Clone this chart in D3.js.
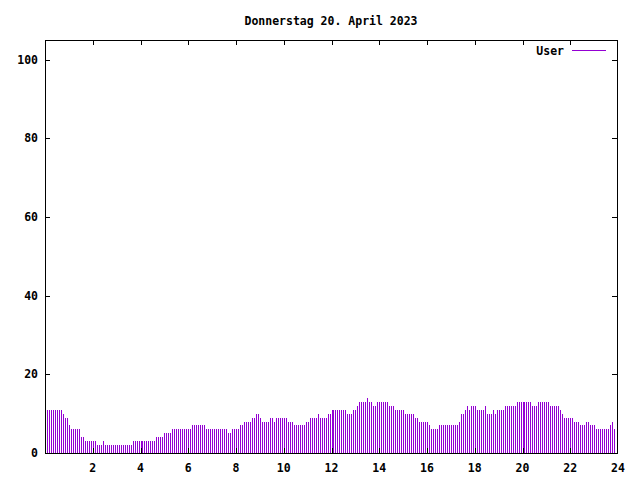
<!DOCTYPE html>
<html>
<head>
<meta charset="utf-8">
<script src="https://cdn.jsdelivr.net/npm/d3@7"></script>
<style>
    body { margin: 0; background: #fff; }
    text { font-family: 'DejaVu Sans Mono', monospace; font-weight: bold; font-size: 11.5px; fill: #000; }
</style>
</head>
<body>
<script>
'use strict';

var title = 'Donnerstag 20. April 2023';
var seriesName = 'User';

// logged users, one sample every 5 minutes starting at 00:05
var users = [
    11, 11, 11, 11, 11, 11, 11, 11, 10, 9, 9, 7,
    6, 6, 6, 6, 6, 4, 4, 3, 3, 3, 3, 3,
    3, 2, 2, 2, 3, 2, 2, 2, 2, 2, 2, 2,
    2, 2, 2, 2, 2, 2, 2, 3, 3, 3, 3, 3,
    3, 3, 3, 3, 3, 3, 3, 4, 4, 4, 4, 5,
    5, 5, 5, 6, 6, 6, 6, 6, 6, 6, 6, 6,
    6, 7, 7, 7, 7, 7, 7, 7, 6, 6, 6, 6,
    6, 6, 6, 6, 6, 6, 6, 5, 5, 6, 6, 6,
    6, 7, 7, 8, 8, 8, 8, 9, 9, 10, 10, 9,
    8, 8, 8, 8, 9, 9, 8, 9, 9, 9, 9, 9,
    9, 8, 8, 8, 7, 7, 7, 7, 7, 7, 8, 8,
    9, 9, 9, 9, 10, 9, 9, 9, 9, 10, 10, 11,
    11, 11, 11, 11, 11, 11, 11, 10, 10, 10, 11, 11,
    12, 13, 13, 13, 13, 14, 13, 13, 12, 12, 13, 13,
    13, 13, 13, 13, 12, 12, 12, 11, 11, 11, 11, 11,
    10, 10, 10, 10, 10, 9, 9, 8, 8, 8, 8, 8,
    7, 6, 6, 6, 6, 7, 7, 7, 7, 7, 7, 7,
    7, 7, 7, 8, 10, 10, 11, 12, 11, 12, 12, 12,
    11, 11, 11, 11, 12, 10, 10, 10, 11, 10, 11, 11,
    11, 11, 12, 12, 12, 12, 12, 12, 13, 13, 13, 13,
    13, 13, 13, 13, 12, 12, 12, 13, 13, 13, 13, 13,
    13, 12, 12, 12, 12, 12, 11, 10, 9, 9, 9, 9,
    9, 8, 8, 8, 7, 7, 7, 8, 8, 7, 7, 7,
    6, 6, 6, 6, 6, 6, 6, 7, 8, 6
];

var xTicks = [0, 2, 4, 6, 8, 10, 12, 14, 16, 18, 20, 22, 24];
var xLabels = [2, 4, 6, 8, 10, 12, 14, 16, 18, 20, 22, 24];
var yTicks = [0, 20, 40, 60, 80, 100];

var stepHour = 5 / 60;

var width = 640;
var height = 480;
var tickLen = 5;
var color = '#9400d3';

var svg = d3.select('body').append('svg')
    .attr('width', width)
    .attr('height', height)
    .attr('shape-rendering', 'crispEdges');

var x = d3.scaleLinear()
    .domain([0, 24])
    .range([45, 618]);

var y = d3.scaleLinear()
    .domain([0, 105])
    .range([453, 40]);

// impulses
svg.append('g')
    .selectAll('line')
    .data(users)
    .enter().append('line')
    .attr('x1', function(d, i) { return Math.round(x((i + 1) * stepHour)) + 0.5; })
    .attr('x2', function(d, i) { return Math.round(x((i + 1) * stepHour)) + 0.5; })
    .attr('y1', y(0))
    .attr('y2', function(d) { return Math.round(y(d)); })
    .attr('stroke', color)
    .attr('stroke-width', 1);

var x0 = 45, x1 = 617;
var y0 = y.range()[0], y1 = y.range()[1];

// ticks on all four sides, like gnuplot mirrors them
var ticks = svg.append('g').attr('stroke', '#000');

xTicks.forEach(function(t) {
    var px = Math.min(Math.round(x(t)), x1) + 0.5;
    ticks.append('line').attr('x1', px).attr('x2', px).attr('y1', y0).attr('y2', y0 - tickLen);
    ticks.append('line').attr('x1', px).attr('x2', px).attr('y1', y1).attr('y2', y1 + tickLen);
});

yTicks.forEach(function(t) {
    var py = Math.round(y(t)) + 0.5;
    ticks.append('line').attr('x1', x0).attr('x2', x0 + tickLen).attr('y1', py).attr('y2', py);
    ticks.append('line').attr('x1', x1).attr('x2', x1 - tickLen).attr('y1', py).attr('y2', py);
});

svg.append('rect')
    .attr('x', x0 + 0.5)
    .attr('y', y1 + 0.5)
    .attr('width', x1 - x0)
    .attr('height', y0 - y1)
    .attr('fill', 'none')
    .attr('stroke', '#000');

svg.append('g')
    .selectAll('text')
    .data(xLabels)
    .enter().append('text')
    .attr('x', function(d) { return x(d); })
    .attr('y', y0 + 19)
    .attr('text-anchor', 'middle')
    .text(function(d) { return d; });

svg.append('g')
    .selectAll('text')
    .data(yTicks)
    .enter().append('text')
    .attr('x', x0 - 7)
    .attr('y', function(d) { return y(d) + 4; })
    .attr('text-anchor', 'end')
    .text(function(d) { return d; });

svg.append('text')
    .attr('x', (x0 + x1) / 2)
    .attr('y', 25)
    .attr('text-anchor', 'middle')
    .text(title);

// legend
svg.append('text')
    .attr('x', 564)
    .attr('y', 55)
    .attr('text-anchor', 'end')
    .text(seriesName);

svg.append('line')
    .attr('x1', 572)
    .attr('x2', 606)
    .attr('y1', 50.5)
    .attr('y2', 50.5)
    .attr('stroke', color);
</script>
</body>
</html>
